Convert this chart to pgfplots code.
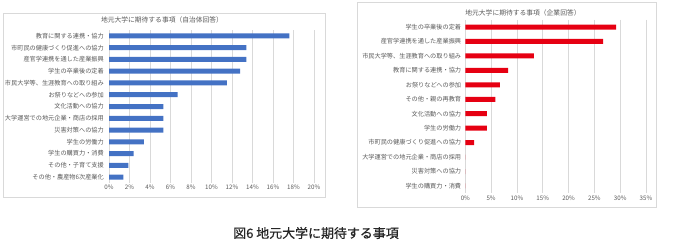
\documentclass[border=0pt]{standalone}
\usepackage{fontspec}
\setmainfont{Noto Sans CJK JP}
\newfontfamily\capfont[FakeBold=0.6]{Noto Sans CJK JP}
\usepackage{pgfplots}
\pgfplotsset{compat=1.18}
\definecolor{barblue}{HTML}{4472C4}
\definecolor{barred}{HTML}{E60012}
\definecolor{gridc}{HTML}{D9D9D9}
\definecolor{txt}{HTML}{595959}
\pgfplotsset{
  common/.style={
    scale only axis, xbar, y dir=reverse,
    ymin=-0.5, ymax=11.5+1,
    ytick={0,...,12}, xmin=0,
    axis line style={draw=none}, major tick length=0pt,
    xmajorgrids, grid style={gridc, line width=0.6pt},
    tick label style={font=\fontsize{6.2}{7}\selectfont, text=txt},
    /pgf/number format/assume math mode=true,
    xticklabel={\pgfmathprintnumber{\tick}\%},
    yticklabel style={inner sep=0pt},
    ytick style={draw=none},
  }
}
\begin{document}
\begin{tikzpicture}[x=1bp,y=1bp]
\path[use as bounding box] (0,0) rectangle (692,246);
% frames
\draw[gridc, line width=0.6pt] (3,49) rectangle (325,233);
\draw[gridc, line width=0.6pt] (357,39) rectangle (656,244);
\node[text=txt, font=\fontsize{6.8}{8}\selectfont] at (162,226) {地元大学に期待する事項（自治体回答）};
\node[text=txt, font=\fontsize{6.8}{8}\selectfont] at (523,233) {地元大学に期待する事項（企業回答）};
\node[font=\capfont\fontsize{13}{15}\selectfont, text=black!85] at (316,13) {図6 地元大学に期待する事項};
\begin{axis}[common,
  at={(109bp,63bp)}, anchor=south west, width=205bp, height=153bp,
  xmax=20, xtick={0,2,...,20}, bar width=5bp,
  ymin=-0.5, ymax=12.5,
  yticklabel style={xshift=-5bp},
  xticklabel style={yshift=2bp},
  yticklabels={教育に関する連携・協力,市町民の健康づくり促進への協力,産官学連携を通した産業振興,学生の卒業後の定着,市民大学等、生涯教育への取り組み,お祭りなどへの参加,文化活動への協力,大学運営での地元企業・商店の採用,災害対策への協力,学生の労働力,学生の購買力・消費,その他・子育て支援,その他・農産物6次産業化},
]
\addplot[fill=barblue, draw=none] coordinates {
(17.6,0) (13.4,1) (13.4,2) (12.8,3) (11.5,4) (6.7,5) (5.3,6) (5.3,7) (5.3,8) (3.4,9) (2.4,10) (1.9,11) (1.4,12)};
\end{axis}
\begin{axis}[common,
  at={(465.3bp,52.8bp)}, anchor=south west, width=180.7bp, height=173.4bp,
  xmax=35, xtick={0,5,...,35}, bar width=5bp,
  ymin=-0.5, ymax=11.5, ytick={0,...,11},
  yticklabel style={xshift=-4bp},
  xticklabel style={yshift=1bp},
  yticklabels={学生の卒業後の定着,産官学連携を通した産業振興,市民大学等、生涯教育への取り組み,教育に関する連携・協力,お祭りなどへの参加,その他・親の再教育,文化活動への協力,学生の労働力,市町民の健康づくり促進への協力,大学運営での地元企業・商店の採用,災害対策への協力,学生の購買力・消費},
]
\addplot[fill=barred, draw=none] coordinates {
(29.2,0) (26.7,1) (13.3,2) (8.3,3) (6.7,4) (5.8,5) (4.2,6) (4.2,7) (1.7,8) (0,9) (0,10) (0,11)};
\end{axis}
\end{tikzpicture}
\end{document}
